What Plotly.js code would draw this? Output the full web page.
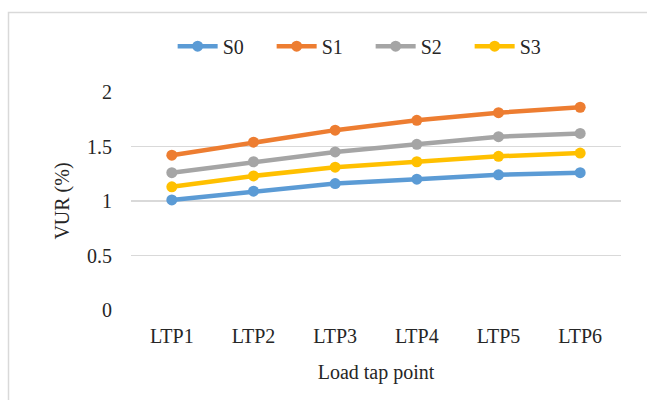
<!DOCTYPE html>
<html>
<head>
<meta charset="utf-8">
<script src="https://cdn.plot.ly/plotly-3.0.1.min.js"></script>
<style>html,body{margin:0;padding:0;background:#fff;}#chart{width:647px;height:400px;}</style>
</head>
<body>
<div id="chart"></div>
<script>
const categories = ["LTP1", "LTP2", "LTP3", "LTP4", "LTP5", "LTP6"];
const seriesNames = ["S0", "S1", "S2", "S3"];
const s0 = [1.01, 1.09, 1.16, 1.20, 1.24, 1.26];
const s1 = [1.42, 1.54, 1.65, 1.74, 1.81, 1.86];
const s2 = [1.26, 1.36, 1.45, 1.52, 1.59, 1.62];
const s3 = [1.13, 1.23, 1.31, 1.36, 1.41, 1.44];
const colors = ["#5B9BD5", "#ED7D31", "#A5A5A5", "#FFC000"];
const yTicks = [0, 0.5, 1, 1.5, 2];

const font = "'Liberation Serif', 'Times New Roman', serif";
const data = [s0, s1, s2, s3].map((v, i) => ({
  type: "scatter", mode: "lines+markers",
  x: categories, y: v, name: seriesNames[i],
  line: {color: colors[i], width: 4.5},
  marker: {color: colors[i], size: 11}
}));

const layout = {
  width: 647, height: 400,
  margin: {l: 131, r: 26, t: 92, b: 90},
  paper_bgcolor: "#fff", plot_bgcolor: "#fff",
  font: {family: font, size: 20, color: "#262626"},
  showlegend: true,
  legend: {orientation: "h", x: 0.085, xanchor: "left", y: 1.21, yanchor: "middle",
           font: {family: font, size: 20, color: "#262626"}, itemwidth: 40,
           entrywidth: 44, entrywidthmode: "pixels", tracegroupgap: 0},
  xaxis: {
    type: "category", range: [-0.5, 5.5],
    showgrid: false, zeroline: false, showline: false,
    ticks: "outside", ticklen: 8, tickcolor: "rgba(0,0,0,0)",
    tickfont: {family: font, size: 20, color: "#262626"},
    title: {text: "Load tap point", font: {family: font, size: 20, color: "#262626"}, standoff: 18}
  },
  yaxis: {
    range: [0, 2], tickvals: yTicks, ticktext: yTicks.map(String),
    showgrid: true, gridcolor: "#D9D9D9", gridwidth: 1.5,
    zeroline: false, showline: false,
    ticks: "outside", ticklen: 14, tickcolor: "rgba(0,0,0,0)",
    tickfont: {family: font, size: 20, color: "#262626"},
    title: {text: "VUR (%)", font: {family: font, size: 20, color: "#262626"}, standoff: 12}
  },
  shapes: [{
    type: "rect", xref: "paper", yref: "paper",
    x0: -0.25, x1: 1.1, y0: -0.5, y1: 1.365,
    line: {color: "#D9D9D9", width: 1.5}, fillcolor: "rgba(0,0,0,0)", layer: "below"
  }]
};

Plotly.newPlot("chart", data, layout, {displayModeBar: false, staticPlot: true});
</script>
</body>
</html>
